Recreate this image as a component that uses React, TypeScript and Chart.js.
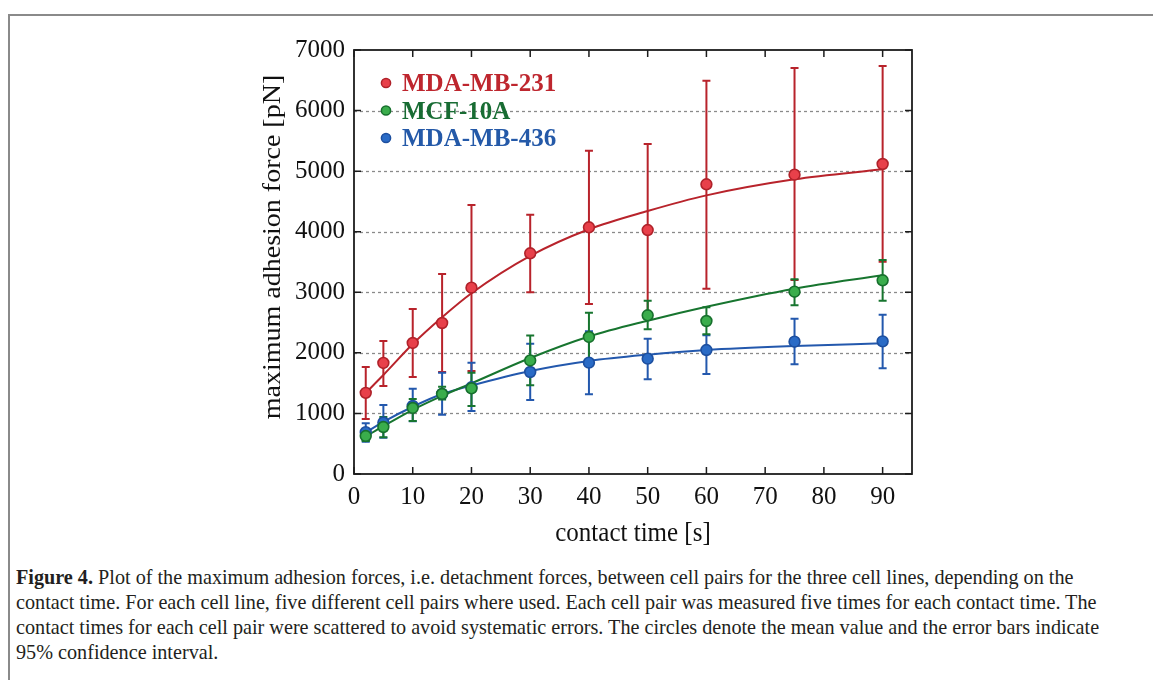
import React, { useEffect, useRef } from 'react';
import { Chart, registerables } from 'chart.js';

Chart.register(...registerables);

// ---------- data ----------
const contactTimes = [2, 5, 10, 15, 20, 30, 40, 50, 60, 75, 90];

const mb231Mean = [1340, 1833, 2163, 2493, 3076, 3644, 4073, 4028, 4783, 4942, 5118];
const mb231Upper = [1767, 2196, 2724, 3302, 4441, 4281, 5338, 5448, 6494, 6703, 6736];
const mb231Lower = [908, 1453, 1601, 1684, 1700, 3000, 2807, 2610, 3060, 3203, 3505];

const mcf10aMean = [627, 776, 1090, 1321, 1415, 1875, 2262, 2620, 2526, 3010, 3198];
const mcf10aUpper = [720, 941, 1238, 1441, 1673, 2287, 2663, 2861, 2752, 3214, 3533];
const mcf10aLower = [545, 606, 875, 1230, 1123, 1467, 1854, 2389, 2306, 2785, 2861];

const mb436Mean = [690, 850, 1123, 1321, 1431, 1684, 1838, 1904, 2047, 2184, 2190];
const mb436Upper = [837, 1139, 1409, 1673, 1838, 2152, 2356, 2234, 2290, 2564, 2630];
const mb436Lower = [533, 600, 870, 979, 1040, 1222, 1316, 1563, 1651, 1811, 1745];

const fitTimes = [2, 5, 10, 15, 20, 30, 40, 50, 60, 75, 90];
const mb231Fit = [1340, 1634, 2145, 2587, 2983, 3600, 4040, 4342, 4600, 4865, 5030];
const mcf10aFit = [620, 790, 1060, 1290, 1497, 1915, 2270, 2531, 2762, 3060, 3280];
const mb436Fit = [685, 860, 1110, 1320, 1460, 1700, 1866, 1970, 2047, 2113, 2158];

const seriesNames = ['MDA-MB-231', 'MCF-10A', 'MDA-MB-436'];
const xTickValues = [0, 10, 20, 30, 40, 50, 60, 70, 80, 90];
const yTickValues = [0, 1000, 2000, 3000, 4000, 5000, 6000, 7000];
const gridValues = [1000, 2000, 3000, 4000, 5000, 6000];

const xTitle = 'contact time [s]';
const yTitle = 'maximum adhesion force [pN]';

const captionLines = [
  ' Plot of the maximum adhesion forces, i.e. detachment forces, between cell pairs for the three cell lines, depending on the',
  'contact time. For each cell line, five different cell pairs where used. Each cell pair was measured five times for each contact time. The',
  'contact times for each cell pair were scattered to avoid systematic errors. The circles denote the mean value and the error bars indicate',
  '95% confidence interval.',
];

// ---------- styles ----------
const styles = [
  { line: '#b8232b', fill: '#e8404a', border: '#b0222a', text: '#be262e' },
  { line: '#17752f', fill: '#3aad4c', border: '#17702d', text: '#186c33' },
  { line: '#2358ad', fill: '#2a6bc6', border: '#1d4f9f', text: '#2459a8' },
];

const means = [mb231Mean, mcf10aMean, mb436Mean];
const uppers = [mb231Upper, mcf10aUpper, mb436Upper];
const lowers = [mb231Lower, mcf10aLower, mb436Lower];
const fits = [mb231Fit, mcf10aFit, mb436Fit];

const FONT = '"Liberation Serif", "Times New Roman", serif';

const figurePlugin = {
  id: 'figurePlugin',
  beforeDatasetsDraw(chart: any) {
    const { ctx, chartArea: a, scales } = chart;
    const x = scales.x;
    const y = scales.y;
    ctx.save();
    ctx.strokeStyle = '#8a8a8a';
    ctx.lineWidth = 1.3;
    ctx.setLineDash([3, 3]);
    for (const v of gridValues) {
      const py = Math.round(y.getPixelForValue(v)) + 0.5;
      ctx.beginPath();
      ctx.moveTo(a.left, py);
      ctx.lineTo(a.right, py);
      ctx.stroke();
    }
    ctx.setLineDash([]);
    const order = [0, 2, 1];
    for (const s of order) {
      ctx.strokeStyle = styles[s].line;
      ctx.lineWidth = 2;
      for (let i = 0; i < contactTimes.length; i++) {
        const px = x.getPixelForValue(contactTimes[i]);
        const top = y.getPixelForValue(uppers[s][i]);
        const bot = y.getPixelForValue(lowers[s][i]);
        ctx.beginPath();
        ctx.moveTo(px, top);
        ctx.lineTo(px, bot);
        ctx.moveTo(px - 4, top);
        ctx.lineTo(px + 4, top);
        ctx.moveTo(px - 4, bot);
        ctx.lineTo(px + 4, bot);
        ctx.stroke();
      }
    }
    ctx.restore();
  },
  afterDraw(chart: any) {
    const { ctx, chartArea: a, scales } = chart;
    const x = scales.x;
    const y = scales.y;
    ctx.save();
    ctx.strokeStyle = '#1c1c1c';
    ctx.lineWidth = 1.8;
    ctx.strokeRect(a.left, a.top, a.right - a.left, a.bottom - a.top);
    ctx.lineWidth = 1.5;
    const tl = 7;
    for (const v of xTickValues) {
      const px = x.getPixelForValue(v);
      ctx.beginPath();
      ctx.moveTo(px, a.bottom);
      ctx.lineTo(px, a.bottom - tl);
      ctx.moveTo(px, a.top);
      ctx.lineTo(px, a.top + tl);
      ctx.stroke();
    }
    for (const v of yTickValues) {
      const py = y.getPixelForValue(v);
      ctx.beginPath();
      ctx.moveTo(a.left, py);
      ctx.lineTo(a.left + tl, py);
      ctx.moveTo(a.right, py);
      ctx.lineTo(a.right - tl, py);
      ctx.stroke();
    }
    ctx.fillStyle = '#111';
    ctx.font = `25px ${FONT}`;
    ctx.textAlign = 'center';
    ctx.textBaseline = 'middle';
    ctx.save();
    ctx.translate((a.left + a.right) / 2, a.bottom + 60);
    ctx.scale(1, 1.12);
    ctx.fillText(xTitle, 0, 0);
    ctx.restore();
    ctx.save();
    ctx.translate(a.left - 81, (a.top + a.bottom) / 2 - 15);
    ctx.rotate(-Math.PI / 2);
    ctx.scale(1.12, 1);
    ctx.fillText(yTitle, 0, 0);
    ctx.restore();
    ctx.textAlign = 'left';
    ctx.textBaseline = 'alphabetic';
    ctx.font = `bold 25px ${FONT}`;
    for (let s = 0; s < 3; s++) {
      const cy = a.top + 33 + s * 27.5;
      ctx.beginPath();
      ctx.arc(a.left + 32, cy, 4.6, 0, Math.PI * 2);
      ctx.fillStyle = styles[s].fill;
      ctx.fill();
      ctx.lineWidth = 1.5;
      ctx.strokeStyle = styles[s].border;
      ctx.stroke();
      ctx.fillStyle = styles[s].text;
      ctx.fillText(seriesNames[s], a.left + 48, cy + 8);
    }
    ctx.restore();
  },
};

export default function App() {
  const canvasRef = useRef<HTMLCanvasElement | null>(null);

  useEffect(() => {
    const canvas = canvasRef.current;
    if (!canvas) return;

    const datasets: any[] = [];
    for (let s = 0; s < 3; s++) {
      datasets.push({
        label: seriesNames[s] + ' fit',
        data: fitTimes.map((t, i) => ({ x: t, y: fits[s][i] })),
        showLine: true,
        borderColor: styles[s].line,
        borderWidth: 2,
        pointRadius: 0,
        cubicInterpolationMode: 'monotone',
        fill: false,
        order: 10 + s,
      });
    }
    const pointOrder = [3, 1, 2];
    for (let s = 0; s < 3; s++) {
      datasets.push({
        label: seriesNames[s],
        data: contactTimes.map((t, i) => ({ x: t, y: means[s][i] })),
        showLine: false,
        backgroundColor: styles[s].fill,
        borderColor: styles[s].border,
        borderWidth: 1.6,
        pointRadius: 5.4,
        pointHoverRadius: 5.4,
        order: pointOrder[s],
      });
    }

    const tickFont = { family: FONT, size: 25 };
    const chart = new Chart(canvas, {
      type: 'scatter',
      data: { datasets },
      options: {
        responsive: false,
        animation: false,
        events: [],
        layout: { padding: { left: 0, right: 241, top: 50, bottom: 0 } },
        plugins: { legend: { display: false }, tooltip: { enabled: false } },
        scales: {
          x: {
            type: 'linear',
            min: 0,
            max: 95,
            afterFit: (s: any) => {
              s.height = 86;
            },
            grid: { display: false, drawTicks: false },
            border: { display: false },
            ticks: {
              stepSize: 10,
              includeBounds: false,
              autoSkip: false,
              maxRotation: 0,
              padding: 8,
              color: '#111',
              font: tickFont,
              callback: (v: any) => String(v),
            },
          },
          y: {
            type: 'linear',
            min: 0,
            max: 7000,
            afterFit: (s: any) => {
              s.width = 354;
            },
            grid: { display: false, drawTicks: false },
            border: { display: false },
            ticks: {
              stepSize: 1000,
              autoSkip: false,
              padding: 9,
              color: '#111',
              font: tickFont,
              callback: (v: any) => String(v),
            },
          },
        },
      },
      plugins: [figurePlugin],
    });

    return () => {
      chart.destroy();
    };
  }, []);

  return (
    <div
      style={{
        position: 'absolute',
        left: 0,
        top: 0,
        width: 1153,
        height: 680,
        background: '#ffffff',
        overflow: 'hidden',
      }}
    >
      <div style={{ position: 'absolute', left: 8, top: 14, width: 1145, height: 2, background: '#8a8a8a' }} />
      <div style={{ position: 'absolute', left: 8, top: 14, width: 2, height: 666, background: '#8a8a8a' }} />
      <canvas
        ref={canvasRef}
        width={1153}
        height={560}
        style={{ position: 'absolute', left: 0, top: 0, width: 1153, height: 560 }}
      />
      <div
        style={{
          position: 'absolute',
          left: 16,
          top: 565,
          fontFamily: FONT,
          fontSize: 20.2,
          lineHeight: '25px',
          color: '#231f20',
          whiteSpace: 'nowrap',
        }}
      >
        {captionLines.map((line, i) => (
          <div key={i}>
            {i === 0 ? <b>Figure 4.</b> : null}
            {line}
          </div>
        ))}
      </div>
    </div>
  );
}
